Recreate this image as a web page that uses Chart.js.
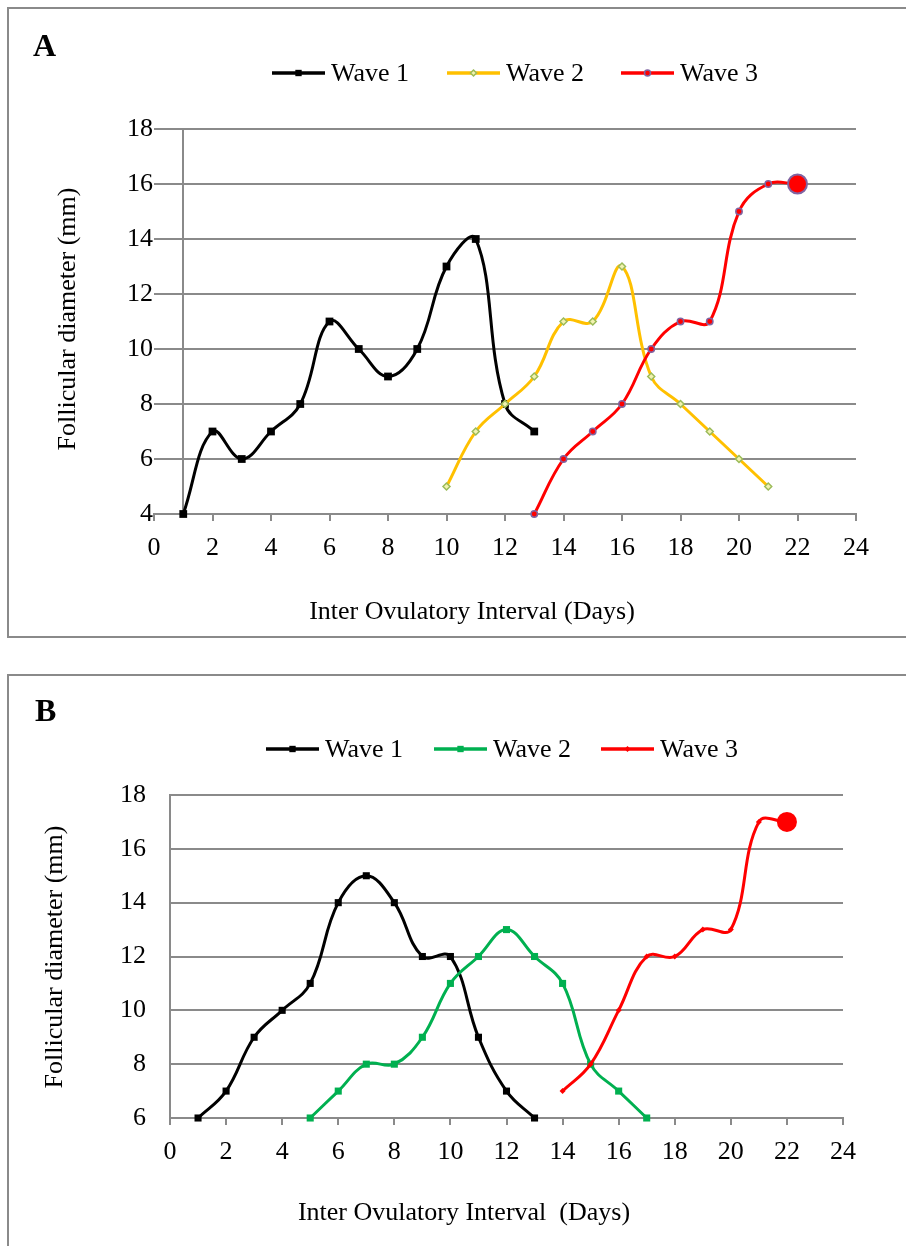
<!DOCTYPE html>
<html><head><meta charset="utf-8">
<script src="https://cdn.jsdelivr.net/npm/chart.js@4.4.1/dist/chart.umd.min.js"></script>
<style>
html,body{margin:0;padding:0;background:#fff;width:906px;height:1246px;overflow:hidden;position:relative;}
.box{position:absolute;border:2px solid #8a8a8a;box-sizing:border-box;}
canvas{position:absolute;left:0;}
</style></head><body>
<div class="box" style="left:7px;top:7px;width:920px;height:631px;"></div>
<div class="box" style="left:7px;top:674px;width:920px;height:600px;"></div>
<canvas id="cA" width="906" height="640" style="top:0"></canvas>
<canvas id="cB" width="906" height="586" style="top:660px"></canvas>
<script>
// ---------- data ----------
const seriesNames = ['Wave 1', 'Wave 2', 'Wave 3'];
const xTickValues = [0, 2, 4, 6, 8, 10, 12, 14, 16, 18, 20, 22, 24];
const yTickValuesA = [4, 6, 8, 10, 12, 14, 16, 18];
const yTickValuesB = [6, 8, 10, 12, 14, 16, 18];
const xTitle = 'Inter Ovulatory Interval (Days)';
const xTitleB = 'Inter Ovulatory Interval  (Days)';
const yTitle = 'Follicular diameter (mm)';

// Panel A
const daysA1 = [1, 2, 3, 4, 5, 6, 7, 8, 9, 10, 11, 12, 13];
const wave1A = [4, 7, 6, 7, 8, 11, 10, 9, 10, 13, 14, 8, 7];
const daysA2 = [10, 11, 12, 13, 14, 15, 16, 17, 18, 19, 20, 21];
const wave2A = [5, 7, 8, 9, 11, 11, 13, 9, 8, 7, 6, 5];
const daysA3 = [13, 14, 15, 16, 17, 18, 19, 20, 21, 22];
const wave3A = [4, 6, 7, 8, 10, 11, 11, 15, 16, 16];

// Panel B
const daysB1 = [1, 2, 3, 4, 5, 6, 7, 8, 9, 10, 11, 12, 13];
const wave1B = [6, 7, 9, 10, 11, 14, 15, 14, 12, 12, 9, 7, 6];
const daysB2 = [5, 6, 7, 8, 9, 10, 11, 12, 13, 14, 15, 16, 17];
const wave2B = [6, 7, 8, 8, 9, 11, 12, 13, 12, 11, 8, 7, 6];
const daysB3 = [14, 15, 16, 17, 18, 19, 20, 21, 22];
const wave3B = [7, 8, 10, 12, 12, 13, 13, 17, 17];

// ---------- helpers ----------
const pts = (xs, ys) => xs.map((x, i) => ({x: x, y: ys[i]}));
const FONT = '"Liberation Serif", "Times New Roman", serif';
const GRID = '#8a8a8a';

function drawMarker(ctx, style, x, y, r, fill, stroke, bw) {
  ctx.save();
  ctx.fillStyle = fill; ctx.strokeStyle = stroke; ctx.lineWidth = bw;
  ctx.beginPath();
  if (style === 'rect') { const s = r * Math.SQRT1_2; ctx.rect(x - s, y - s, 2 * s, 2 * s); }
  else if (style === 'rectRot') { ctx.moveTo(x, y - r); ctx.lineTo(x + r, y); ctx.lineTo(x, y + r); ctx.lineTo(x - r, y); ctx.closePath(); }
  else { ctx.arc(x, y, r, 0, Math.PI * 2); }
  ctx.fill();
  if (bw > 0) ctx.stroke();
  ctx.restore();
}

const decoPlugin = {
  id: 'deco',
  afterDraw(chart, args, o) {
    const ctx = chart.ctx;
    ctx.save();
    ctx.fillStyle = '#000';
    ctx.textBaseline = 'middle';
    ctx.textAlign = 'left';
    ctx.font = 'bold 32px ' + FONT;
    ctx.fillText(o.letter, o.letterX, o.letterY);
    ctx.font = '26px ' + FONT;
    chart.data.datasets.forEach((ds, i) => {
      const x0 = o.legendX[i], y = o.legendY;
      ctx.strokeStyle = ds.borderColor; ctx.lineWidth = 3.5;
      ctx.beginPath(); ctx.moveTo(x0, y); ctx.lineTo(x0 + o.sampleW, y); ctx.stroke();
      const m = o.legendMarkers[i];
      drawMarker(ctx, m.style, x0 + o.sampleW / 2, y, m.r, m.fill, m.stroke, m.bw);
      ctx.fillStyle = '#000';
      ctx.fillText(ds.label, x0 + o.sampleW + 6, y + 1);
    });
    ctx.textAlign = 'center';
    ctx.fillText(o.xTitle, o.xTitleX, o.xTitleY);
    ctx.translate(o.yTitleX, o.yTitleY);
    ctx.rotate(-Math.PI / 2);
    ctx.fillText(o.yTitle, 0, 0);
    ctx.restore();
  }
};

const vlinePlugin = {
  id: 'vline',
  beforeDatasetsDraw(chart, args, o) {
    if (o.value === undefined) return;
    const {ctx, chartArea} = chart;
    const x = Math.round(chart.scales.x.getPixelForValue(o.value));
    ctx.save();
    ctx.strokeStyle = GRID; ctx.lineWidth = 2;
    ctx.beginPath(); ctx.moveTo(x, chartArea.top); ctx.lineTo(x, chartArea.bottom); ctx.stroke();
    ctx.restore();
  }
};

function scales(yTicks, yW, yPad, yBorder, xH, xPad) {
  return {
    x: {
      type: 'linear', min: xTickValues[0], max: xTickValues[xTickValues.length - 1],
      afterBuildTicks: s => { s.ticks = xTickValues.map(v => ({value: v})); },
      afterFit: s => { s.height = xH; },
      ticks: {font: {family: FONT, size: 26}, color: '#000', padding: xPad, maxRotation: 0, autoSkip: false},
      grid: {drawOnChartArea: false, drawTicks: true, tickLength: 7, color: GRID, lineWidth: 2},
      border: {display: true, color: GRID, width: 2}
    },
    y: {
      type: 'linear', min: yTicks[0], max: yTicks[yTicks.length - 1],
      afterBuildTicks: s => { s.ticks = yTicks.map(v => ({value: v})); },
      afterFit: s => { s.width = yW; },
      ticks: {font: {family: FONT, size: 26}, color: '#000', padding: yPad},
      grid: {color: GRID, lineWidth: 2, drawTicks: false},
      border: {display: yBorder, color: GRID, width: 2}
    }
  };
}

const lineBase = {showLine: true, tension: 0.4, borderWidth: 3, clip: false};

// ---------- Chart A ----------
new Chart(document.getElementById('cA'), {
  type: 'scatter',
  data: {
    datasets: [
      Object.assign({}, lineBase, {label: seriesNames[0], data: pts(daysA1, wave1A), order: 3,
        borderColor: '#000000', pointStyle: 'rect', pointRadius: 5.5,
        pointBackgroundColor: '#000000', pointBorderColor: '#000000', pointBorderWidth: 0}),
      Object.assign({}, lineBase, {label: seriesNames[1], data: pts(daysA2, wave2A), order: 2,
        borderColor: '#FFC000', pointStyle: 'rectRot', pointRadius: 3.5,
        pointBackgroundColor: '#F2F2B0', pointBorderColor: '#9BBB59', pointBorderWidth: 1.5}),
      Object.assign({}, lineBase, {label: seriesNames[2], data: pts(daysA3, wave3A), order: 1,
        borderColor: '#FF0000', pointStyle: 'circle',
        pointRadius: c => c.dataIndex === wave3A.length - 1 ? 9.5 : 3.2,
        pointBackgroundColor: '#FF0000', pointBorderColor: '#8064A2',
        pointBorderWidth: c => c.dataIndex === wave3A.length - 1 ? 2 : 1.5})
    ]
  },
  plugins: [decoPlugin, vlinePlugin],
  options: {
    responsive: false, animation: false, events: [],
    layout: {padding: {left: 0, top: 129, right: 50, bottom: 0}},
    scales: scales(yTickValuesA, 154, 1, false, 126, 12),
    plugins: {
      legend: {display: false}, tooltip: {enabled: false},
      vline: {value: 1},
      deco: {
        letter: 'A', letterX: 33, letterY: 48,
        legendY: 73, legendX: [272, 447, 621], sampleW: 53,
        legendMarkers: [
          {style: 'rect', r: 4.5, fill: '#000', stroke: '#000', bw: 0},
          {style: 'rectRot', r: 3, fill: '#F2F2B0', stroke: '#9BBB59', bw: 1.5},
          {style: 'circle', r: 3, fill: '#FF0000', stroke: '#8064A2', bw: 1.5}
        ],
        xTitle: xTitle, xTitleX: 472, xTitleY: 612,
        yTitle: yTitle, yTitleX: 68, yTitleY: 319
      }
    }
  }
});

// ---------- Chart B ----------
new Chart(document.getElementById('cB'), {
  type: 'scatter',
  data: {
    datasets: [
      Object.assign({}, lineBase, {label: seriesNames[0], data: pts(daysB1, wave1B), order: 3,
        borderColor: '#000000', pointStyle: 'rect', pointRadius: 5,
        pointBackgroundColor: '#000000', pointBorderColor: '#000000', pointBorderWidth: 0}),
      Object.assign({}, lineBase, {label: seriesNames[1], data: pts(daysB2, wave2B), order: 2,
        borderColor: '#00B050', pointStyle: 'rect', pointRadius: 5,
        pointBackgroundColor: '#00B050', pointBorderColor: '#00B050', pointBorderWidth: 0}),
      Object.assign({}, lineBase, {label: seriesNames[2], data: pts(daysB3, wave3B), order: 1,
        borderColor: '#FF0000',
        pointStyle: c => c.dataIndex === wave3B.length - 1 ? 'circle' : 'rectRot',
        pointRadius: c => c.dataIndex === wave3B.length - 1 ? 10 : 3,
        pointBackgroundColor: '#FF0000', pointBorderColor: '#FF0000', pointBorderWidth: 0})
    ]
  },
  plugins: [decoPlugin, vlinePlugin],
  options: {
    responsive: false, animation: false, events: [],
    layout: {padding: {left: 0, top: 135, right: 63, bottom: 0}},
    scales: scales(yTickValuesB, 170, 24, true, 128, 12),
    plugins: {
      legend: {display: false}, tooltip: {enabled: false},
      vline: {},
      deco: {
        letter: 'B', letterX: 35, letterY: 53,
        legendY: 89, legendX: [266, 434, 601], sampleW: 53,
        legendMarkers: [
          {style: 'rect', r: 4.5, fill: '#000', stroke: '#000', bw: 0},
          {style: 'rect', r: 4.5, fill: '#00B050', stroke: '#00B050', bw: 0},
          {style: 'rectRot', r: 3, fill: '#FF0000', stroke: '#FF0000', bw: 0}
        ],
        xTitle: xTitleB, xTitleX: 464, xTitleY: 553,
        yTitle: yTitle, yTitleX: 55, yTitleY: 297
      }
    }
  }
});
</script>
</body></html>
